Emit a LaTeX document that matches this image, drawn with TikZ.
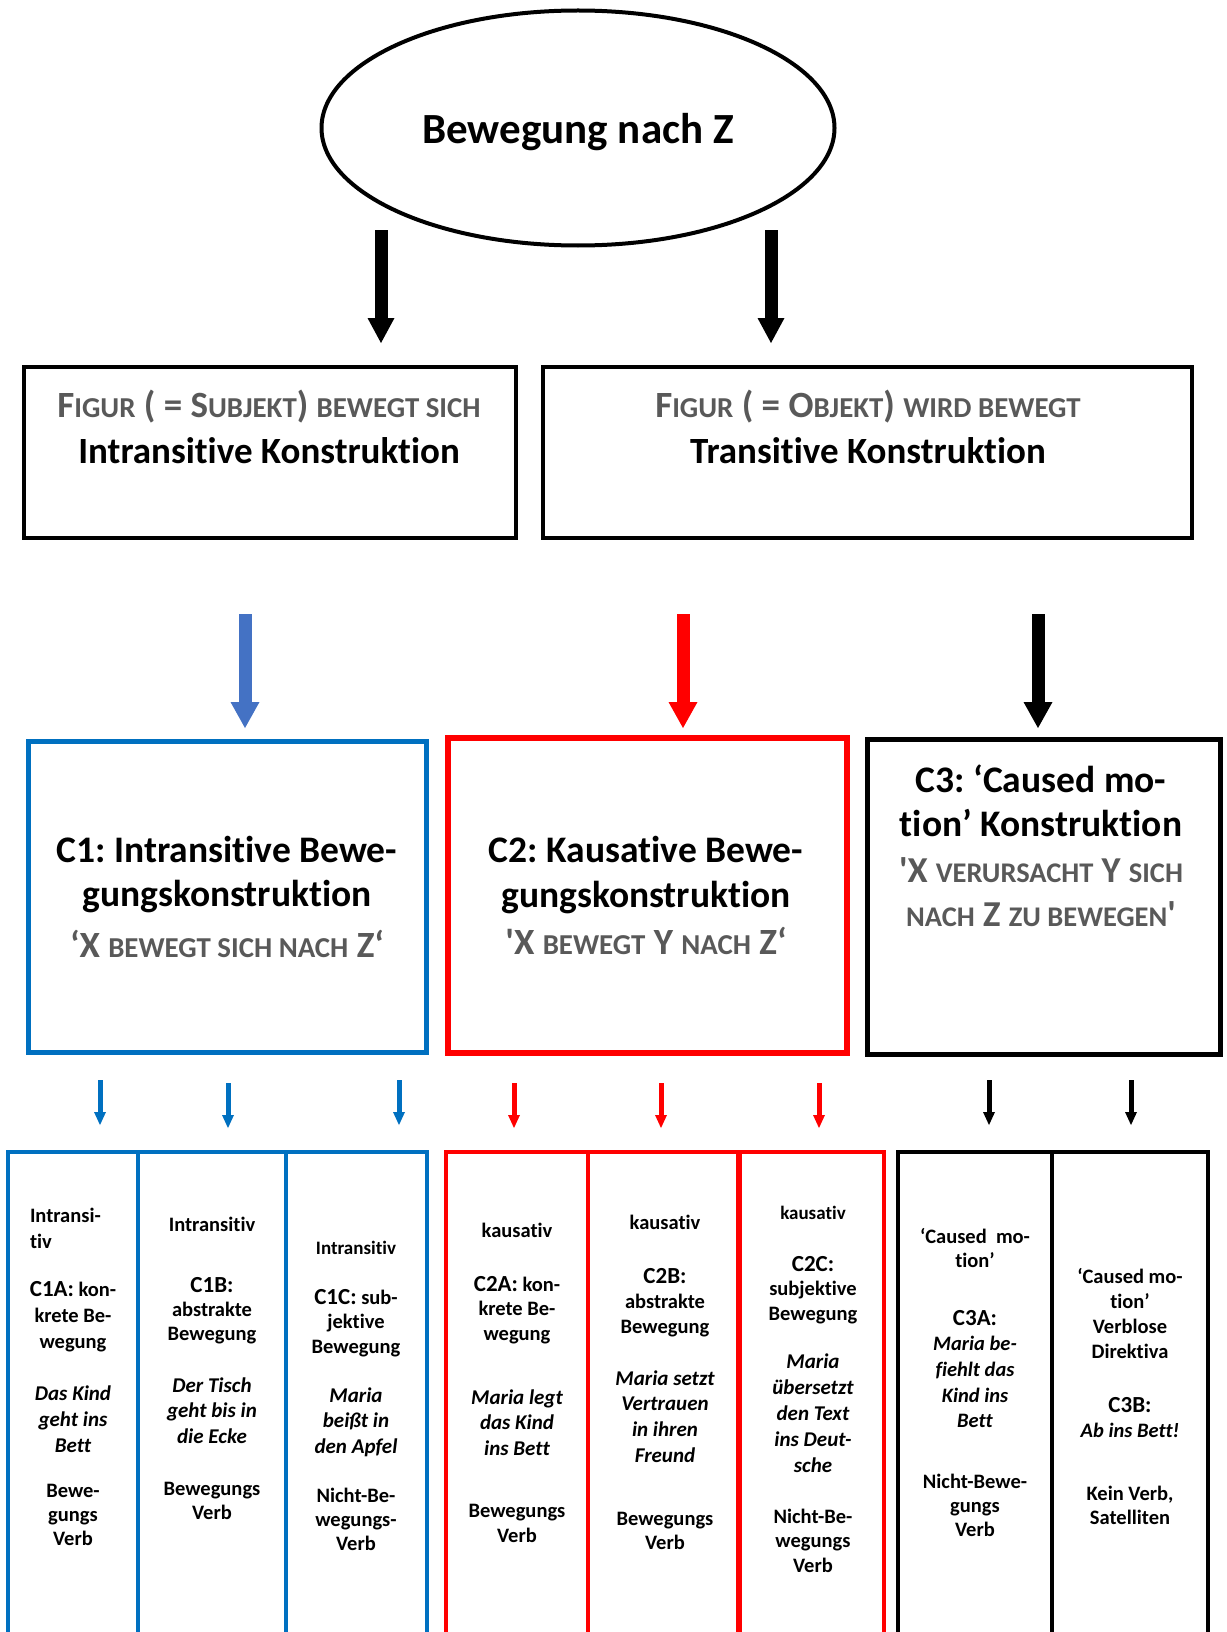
\documentclass[tikz,border=0pt]{standalone}
\usepackage{fontspec}
\setmainfont{Carlito}[Ligatures={TeX,NoCommon}]
\usepackage{graphicx}
\usetikzlibrary{shapes.geometric,arrows.meta}
\definecolor{cblue}{HTML}{0070C0}
\definecolor{lblue}{HTML}{4472C4}
\definecolor{cred}{HTML}{FF0000}
\definecolor{cgray}{HTML}{595959}
\frenchspacing
\newcommand\smc[1]{\scalebox{0.78}{#1}}
\newcommand\lns[2]{\vtop{\baselineskip=#1\lineskiplimit=-100pt\lineskip=0pt\halign{\hfil##\hfil\cr#2\crcr}}}
\newcommand\lnsl[2]{\vtop{\baselineskip=#1\lineskiplimit=-100pt\lineskip=0pt\halign{##\hfil\cr#2\crcr}}}
\newcommand\hd{\fontsize{23}{25}\selectfont}
\begin{document}
\begin{tikzpicture}[x=1pt,y=-1pt,
  every node/.style={inner sep=0pt,outer sep=0pt},
  frame/.style={draw,rectangle,inner sep=0pt},
  bigarr/.style={line width=13pt,-{Triangle[width=27pt,length=25pt,line width=0pt]}},
  midarr/.style={line width=13pt,-{Triangle[width=29pt,length=26pt,line width=0pt]}},
  smallarr/.style={line width=5pt,-{Triangle[width=12pt,length=13pt,line width=0pt]}},
  ttl/.style={anchor=base,font=\fontsize{37}{46}\selectfont\bfseries},
  ctl/.style={anchor=base,font=\fontsize{37.5}{44}\selectfont\bfseries},
  gry/.style={anchor=base,text=cgray,font=\fontsize{37}{44}\selectfont\bfseries},
  colt/.style={anchor=base,font=\fontsize{20.5}{25}\selectfont\bfseries},
  colit/.style={anchor=base,font=\fontsize{21}{25}\selectfont\bfseries\itshape},
  colsm/.style={anchor=base,font=\fontsize{19}{25}\selectfont\bfseries},
  colb/.style={draw=cblue,line width=3.5pt},
  colr/.style={draw=cred,line width=3.5pt},
  colk/.style={draw=black,line width=3.5pt}]
\useasboundingbox (0,0) rectangle (1226,1632);
\fill[white] (0,0) rectangle (1226,1632);

% top ellipse
\node[ellipse,draw,line width=4pt,minimum width=513pt,minimum height=235pt] (ell) at (578,128) {};
\node[anchor=base,font=\fontsize{43}{50}\selectfont\bfseries] (ellt) at (578,144) {Bewegung nach Z};

% top arrows
\coordinate (a1s) at (381,230); \coordinate (a1e) at (381,343);
\coordinate (a2s) at (771,230); \coordinate (a2e) at (771,343);
\draw[bigarr] (a1s) -- (a1e);
\draw[bigarr] (a2s) -- (a2e);

% top boxes
\node[frame,line width=4pt,minimum width=492pt,minimum height=171pt] (box1) at (269.5,452.5) {};
\node[frame,line width=4pt,minimum width=649pt,minimum height=171pt] (box2) at (867.5,452.5) {};
\node[ttl] (b1t) at (269,417) {\lns{46pt}{\textcolor{cgray}{F\smc{IGUR} ( = S\smc{UBJEKT}) \smc{BEWEGT SICH}}\cr Intransitive Konstruktion}};
\node[ttl] (b2t) at (868,417) {\lns{46pt}{\textcolor{cgray}{F\smc{IGUR} ( = O\smc{BJEKT}) \smc{WIRD BEWEGT}}\cr Transitive Konstruktion}};

% middle arrows
\coordinate (m1s) at (245,614); \coordinate (m1e) at (245,728);
\coordinate (m2s) at (683,614); \coordinate (m2e) at (683,728);
\coordinate (m3s) at (1038,614); \coordinate (m3e) at (1038,728);
\draw[midarr,draw=lblue,fill=lblue] (m1s) -- (m1e);
\draw[midarr,draw=cred,fill=cred] (m2s) -- (m2e);
\draw[midarr] (m3s) -- (m3e);

% C boxes
\node[frame,draw=cblue,line width=5pt,minimum width=398pt,minimum height=311pt] (c1) at (227,896.5) {};
\node[frame,draw=cred,line width=6pt,minimum width=399pt,minimum height=315pt] (c2) at (647,895.5) {};
\node[frame,line width=5pt,minimum width=353pt,minimum height=315pt] (c3) at (1043.5,897) {};
\node[ctl] (c1t) at (227,862) {\lns{44pt}{C1: Intransitive Bewe-\cr gungskonstruktion}};
\node[gry] (c1g) at (227,957) {‘X \smc{BEWEGT SICH NACH} Z‘};
\node[ctl] (c2t) at (646,862) {\lns{45pt}{C2: Kausative Bewe-\cr gungskonstruktion}};
\node[gry] (c2g) at (646,954) {\textquotesingle X \smc{BEWEGT} Y \smc{NACH} Z‘};
\node[ctl] (c3t) at (1041,792) {\lns{44pt}{C3: ‘Caused mo-\cr tion’ Konstruktion}};
\node[gry,font=\fontsize{36.5}{44}\selectfont\bfseries] (c3g) at (1041,882) {\lns{44pt}{\textquotesingle X \smc{VERURSACHT} Y \smc{SICH}\cr \smc{NACH} Z \smc{ZU BEWEGEN}\textquotesingle}};

% small arrows
\coordinate (s1s) at (100,1080); \coordinate (s1e) at (100,1125);
\coordinate (s2s) at (228,1083); \coordinate (s2e) at (228,1128);
\coordinate (s3s) at (399,1080); \coordinate (s3e) at (399,1125);
\coordinate (s4s) at (514,1083); \coordinate (s4e) at (514,1128);
\coordinate (s5s) at (661,1083); \coordinate (s5e) at (661,1128);
\coordinate (s6s) at (819,1083); \coordinate (s6e) at (819,1128);
\coordinate (s7s) at (989,1080); \coordinate (s7e) at (989,1125);
\coordinate (s8s) at (1131,1080); \coordinate (s8e) at (1131,1125);
\draw[smallarr,draw=cblue,fill=cblue] (s1s) -- (s1e);
\draw[smallarr,draw=cblue,fill=cblue] (s2s) -- (s2e);
\draw[smallarr,draw=cblue,fill=cblue] (s3s) -- (s3e);
\draw[smallarr,draw=cred,fill=cred] (s4s) -- (s4e);
\draw[smallarr,draw=cred,fill=cred] (s5s) -- (s5e);
\draw[smallarr,draw=cred,fill=cred] (s6s) -- (s6e);
\draw[smallarr] (s7s) -- (s7e);
\draw[smallarr] (s8s) -- (s8e);

% bottom columns
\begin{scope}
\clip (0,0) rectangle (1226,1632);
\draw[colb] (8,1152) rectangle (138,1680);
\draw[colb] (138,1152) rectangle (286,1680);
\draw[colb] (286,1152) rectangle (427,1680);
\draw[colr] (446,1152) rectangle (588,1680);
\draw[colr] (588,1152) rectangle (739,1680);
\draw[colr] (739,1152) rectangle (884,1680);
\draw[cred,line width=6pt] (739,1152) -- (739,1680);
\draw[colk] (898,1152) rectangle (1052,1680);
\draw[colk] (1052,1152) rectangle (1208,1680);
\end{scope}

% column 1
\node[colt,anchor=base west] (t1a) at (30,1222) {\lnsl{26pt}{Intransi-\cr tiv}};
\node[colt] (t1b) at (73,1296) {\lns{26pt}{{\hd C1A:} kon-\cr krete Be-\cr wegung}};
\node[colit] (t1c) at (73,1400) {\lns{26pt}{Das Kind\cr geht ins\cr Bett}};
\node[colt] (t1d) at (73,1497) {\lns{24pt}{Bewe-\cr gungs\cr Verb}};
% column 2
\node[colt] (t2a) at (212,1231) {Intransitiv};
\node[colt] (t2b) at (212,1292) {\lns{24pt}{{\hd C1B:}\cr abstrakte\cr Bewegung}};
\node[colit] (t2c) at (212,1392) {\lns{25.5pt}{Der Tisch\cr geht bis in\cr die Ecke}};
\node[colt] (t2d) at (212,1495) {\lns{24pt}{Bewegungs\cr Verb}};
% column 3
\node[colsm] (t3a) at (356,1254) {Intransitiv};
\node[colt] (t3b) at (356,1304) {\lns{24.5pt}{{\hd C1C:} sub-\cr jektive\cr Bewegung}};
\node[colit] (t3c) at (356,1402) {\lns{25.5pt}{Maria\cr beißt in\cr den Apfel}};
\node[colt] (t3d) at (356,1502) {\lns{24pt}{Nicht-Be-\cr wegungs-\cr Verb}};
% column 4
\node[colt] (t4a) at (517,1237) {kausativ};
\node[colt] (t4b) at (517,1291) {\lns{24.5pt}{{\hd C2A:} kon-\cr krete Be-\cr wegung}};
\node[colit] (t4c) at (517,1404) {\lns{25.5pt}{Maria legt\cr das Kind\cr ins Bett}};
\node[colt] (t4d) at (517,1517) {\lns{25pt}{Bewegungs\cr Verb}};
% column 5
\node[colt] (t5a) at (665,1229) {kausativ};
\node[colt] (t5b) at (665,1283) {\lns{25pt}{{\hd C2B:}\cr abstrakte\cr Bewegung}};
\node[colit] (t5c) at (665,1385) {\lns{25.7pt}{Maria setzt\cr Vertrauen\cr in ihren\cr Freund}};
\node[colt] (t5d) at (665,1525) {\lns{24pt}{Bewegungs\cr Verb}};
% column 6
\node[colsm] (t6a) at (813,1219) {kausativ};
\node[colt] (t6b) at (813,1271) {\lns{24.5pt}{{\hd C2C:}\cr subjektive\cr Bewegung}};
\node[colit] (t6c) at (813,1368) {\lns{26pt}{Maria\cr übersetzt\cr den Text\cr ins Deut-\cr sche}};
\node[colt] (t6d) at (813,1523) {\lns{24.5pt}{Nicht-Be-\cr wegungs\cr Verb}};
% column 7
\node[colt] (t7a) at (975,1243) {\lns{24pt}{‘Caused\ \ mo-\cr tion’}};
\node[colt] (t7b) at (975,1325) {\lns{25.7pt}{{\hd C3A:}\cr \itshape Maria be-\cr \itshape fiehlt das\cr \itshape Kind ins\cr \itshape Bett}};
\node[colt] (t7c) at (975,1488) {\lns{24pt}{Nicht-Bewe-\cr gungs\cr Verb}};
% column 8
\node[colt] (t8a) at (1130,1283) {\lns{25pt}{‘Caused mo-\cr tion’\cr Verblose\cr Direktiva}};
\node[colt] (t8b) at (1130,1412) {\lns{25pt}{{\hd C3B:}\cr \itshape Ab ins Bett!}};
\node[colt] (t8c) at (1130,1500) {\lns{24pt}{Kein Verb,\cr Satelliten}};
\end{tikzpicture}
\end{document}
